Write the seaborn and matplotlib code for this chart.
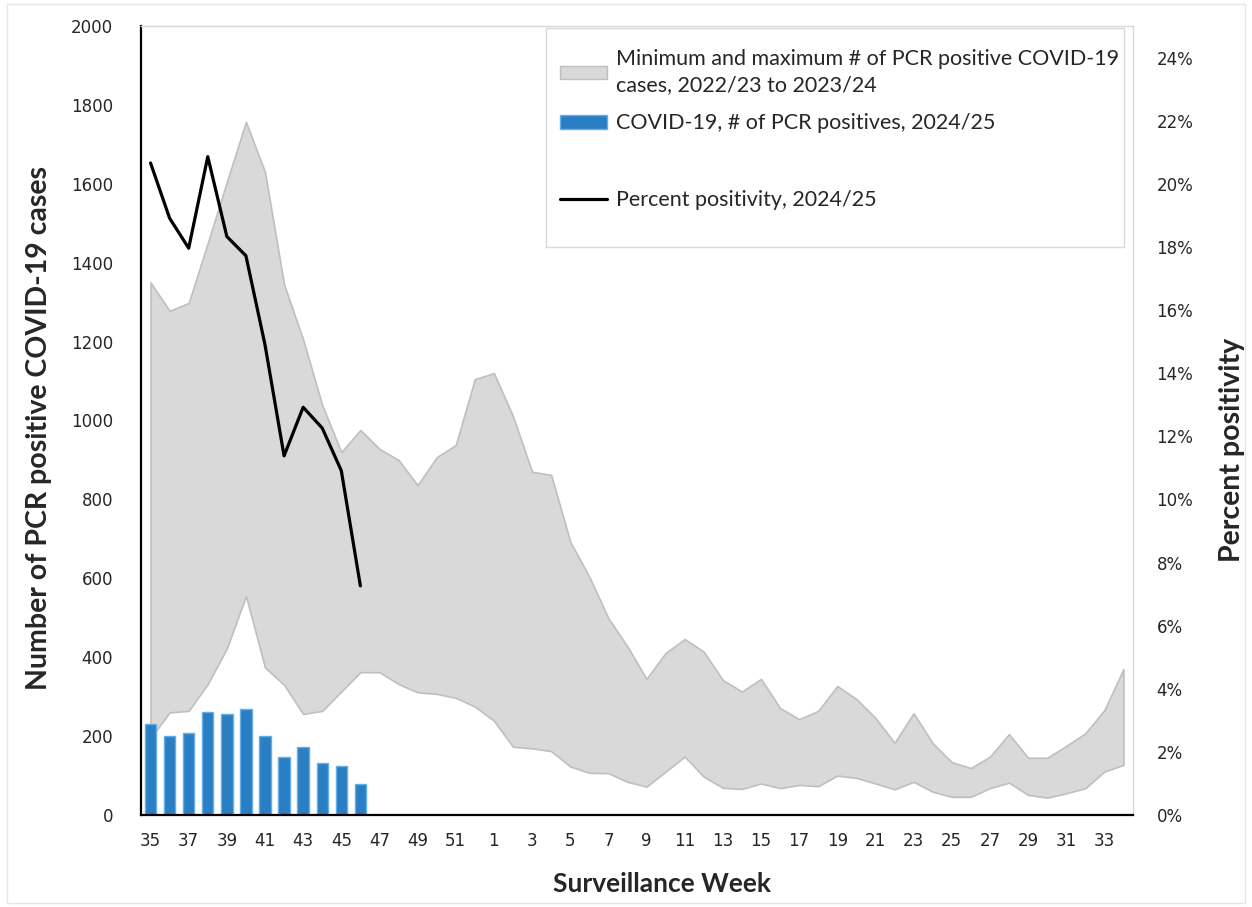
import matplotlib
matplotlib.use("Agg")
import matplotlib.pyplot as plt
import pandas as pd
import seaborn as sns
from matplotlib.patches import Patch, Rectangle
from matplotlib.lines import Line2D
from matplotlib.ticker import PercentFormatter

sns.set_style("white")
plt.rcParams["font.family"] = ["DejaVu Sans"]

# surveillance weeks 35..52 then 1..34
weeks = [str(w) for w in list(range(35, 53)) + list(range(1, 35))]

band_max = [1350, 1278, 1298, 1450, 1605, 1757, 1630, 1345, 1205, 1039, 920, 976,
            928, 900, 836, 907, 938, 1105,
            1120, 1011, 870, 862, 693, 604, 499, 427, 345, 411, 446, 414, 342, 313,
            345, 271, 243, 264, 327, 294, 246, 183, 258, 182, 134, 119, 148, 205,
            145, 145, 175, 207, 266, 370]
band_min = [195, 260, 264, 332, 422, 555, 374, 330, 256, 264, 313, 362,
            362, 332, 311, 307, 297, 275,
            239, 173, 169, 162, 123, 107, 106, 84, 72, 110, 148, 97, 69, 66,
            80, 68, 76, 73, 100, 94, 80, 65, 84, 59, 46, 46, 68, 82,
            51, 44, 55, 68, 110, 127]

cur_weeks = ["35", "36", "37", "38", "39", "40", "41", "42", "43", "44", "45", "46"]
cur_cases = [231, 199, 207, 260, 256, 268, 200, 148, 173, 131, 125, 78]
cur_pct = [20.66, 18.91, 17.96, 20.86, 18.33, 17.72, 14.9, 11.38, 12.92, 12.26, 10.91, 7.26]

df = pd.DataFrame({"week": cur_weeks, "cases": cur_cases, "pct": cur_pct})

grey_fill = "#d9d9d9"
grey_edge = "#bfbfbf"
bar_col = "#2a7fc4"
bar_edge = "#63aee6"
txt_col = "#262626"
title_font = ["Lato", "DejaVu Sans"]

fig = plt.figure(figsize=(12.52, 9.07), dpi=100)
ax = fig.add_axes([141 / 1252, 1 - 815 / 907, 992 / 1252, 789 / 907])

pos = list(range(len(weeks)))
ax.fill_between(pos, band_min, band_max, facecolor=grey_fill, edgecolor=grey_edge,
                linewidth=1.2, zorder=1)
sns.barplot(data=df, x="week", y="cases", order=weeks, color=bar_col,
            edgecolor=bar_edge, linewidth=1.0, width=0.6, saturation=1,
            ax=ax, zorder=2)

ax.set_xlim(-0.5, len(weeks) - 0.5)
ax.set_ylim(0, 2000)
ax.set_yticks(range(0, 2001, 200))
ax.set_xticks(pos[::2])
ax.set_xticklabels(weeks[::2])
ax.tick_params(axis="both", length=0, labelsize=12, colors=txt_col)
ax.tick_params(axis="y", pad=20)
ax.tick_params(axis="x", pad=12)

for s in ["top", "right"]:
    ax.spines[s].set_color("#d9d9d9")
    ax.spines[s].set_linewidth(1)
for s in ["left", "bottom"]:
    ax.spines[s].set_color("black")
    ax.spines[s].set_linewidth(1.6)

ax.set_xlabel("Surveillance Week", fontsize=19, fontweight="bold", family=title_font)
ax.xaxis.set_label_coords(0.525, -0.072)
ax.set_ylabel("Number of PCR positive COVID-19 cases", fontsize=20.5,
              fontweight="bold", family=title_font)
ax.yaxis.set_label_coords(-0.0897, 0.49)

ax2 = ax.twinx()
sns.lineplot(x=pos[:len(cur_pct)], y=cur_pct, color="black", linewidth=2.3, ax=ax2)
ax2.set_ylim(0, 25)
ax2.set_yticks(range(0, 25, 2))
ax2.yaxis.set_major_formatter(PercentFormatter(decimals=0))
ax2.tick_params(axis="y", length=0, labelsize=12, colors=txt_col, pad=17)
for s in ax2.spines.values():
    s.set_visible(False)
ax2.set_ylabel("Percent positivity", fontsize=20.5, fontweight="bold", family=title_font)
ax2.yaxis.set_label_coords(1.0867, 0.4626)

# legend
handles = [
    Patch(facecolor=grey_fill, edgecolor=grey_edge),
    Patch(facecolor=bar_col, edgecolor=bar_edge),
    Line2D([], [], color="none"),
    Line2D([], [], color="black", linewidth=2.3),
]
labels = ["Minimum and maximum # of PCR positive COVID-19\ncases, 2022/23 to 2023/24",
          "COVID-19, # of PCR positives, 2024/25", "",
          "Percent positivity, 2024/25"]
ax2.add_patch(Rectangle((0.408, 0.72), 0.583, 0.2775, transform=ax2.transAxes,
                        facecolor="white", edgecolor="#d9d9d9", linewidth=1, zorder=3))
leg = ax2.legend(handles, labels, loc="upper left", bbox_to_anchor=(0.405, 0.993),
                 frameon=False, prop={"family": title_font, "size": 15.5},
                 handlelength=2.2, handleheight=0.6, handletextpad=0.4,
                 labelspacing=0.85, borderpad=0.3)
for t in leg.get_texts():
    t.set_linespacing(1.4)
leg.set_zorder(4)

fig.patches.append(Rectangle((7 / 1252, 4 / 907), 1238 / 1252, 899 / 907,
                             transform=fig.transFigure, fill=False,
                             edgecolor="#e6e6e6", linewidth=1))

fig.savefig("out.png", dpi=100)
